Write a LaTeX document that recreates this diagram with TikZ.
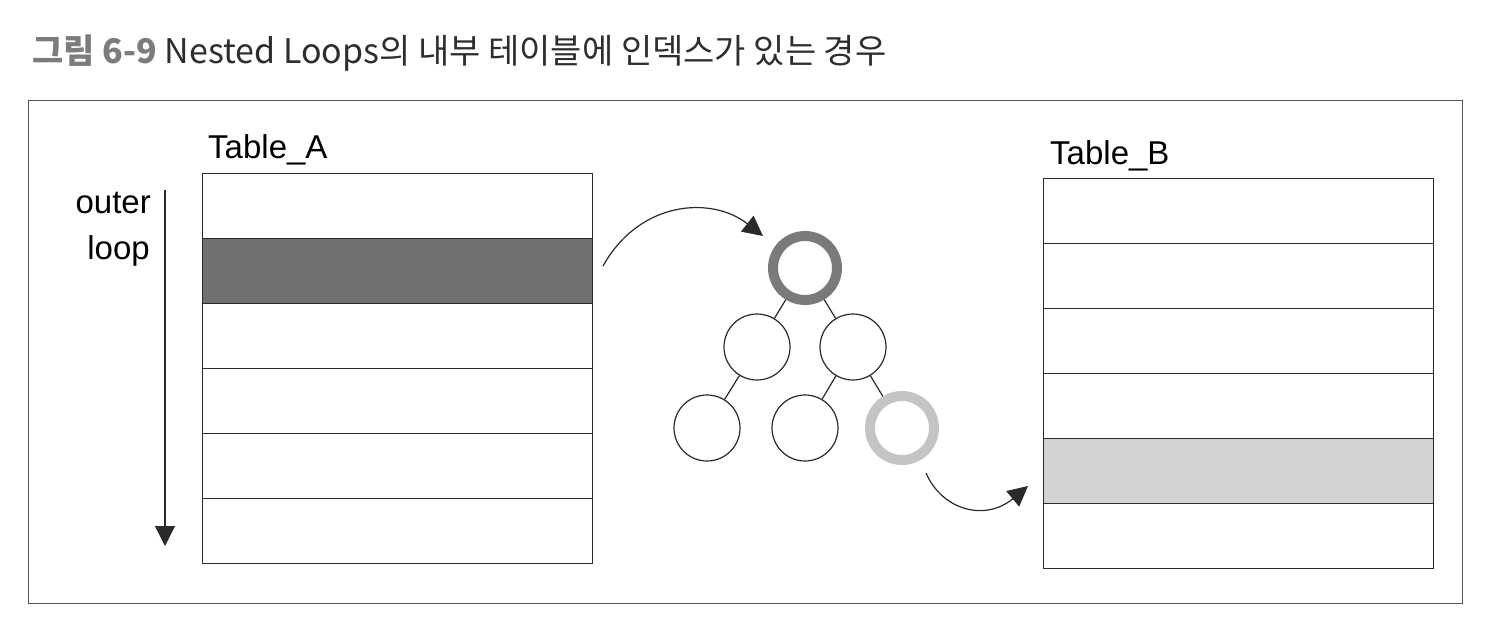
\documentclass[tikz,border=0pt]{standalone}
\usepackage{fontspec}
\setmainfont{Liberation Sans}
\newfontfamily\krfont{Noto Sans CJK KR}
\usetikzlibrary{arrows.meta}
\definecolor{darkrow}{HTML}{707070}
\definecolor{lightrow}{HTML}{D2D2D2}
\definecolor{rootring}{HTML}{7A7A7A}
\definecolor{leafring}{HTML}{C4C4C4}
\definecolor{linecol}{HTML}{2A2A2A}
\definecolor{titlegray}{HTML}{7C7C7C}
\definecolor{titledark}{HTML}{2E2E2E}
\tikzset{
  rowbox/.style={draw=linecol, line width=1.2pt, minimum width=390pt, minimum height=65pt, inner sep=0pt, anchor=north west},
  plaincirc/.style={circle, draw=linecol, line width=1.2pt, minimum size=66pt, inner sep=0pt, fill=white},
  ringcirc/.style={circle, line width=10pt, minimum size=64pt, inner sep=0pt, outer sep=5pt},
  arr/.style={draw=linecol, line width=1.2pt, -{Triangle[length=20pt,width=20pt]}},
  lbl/.style={font=\fontsize{33}{38}\selectfont, text=black, inner sep=0pt},
  edge/.style={draw=linecol, line width=1.2pt}
}
\begin{document}
\begin{tikzpicture}[x=1pt,y=-1pt]
\path[use as bounding box, fill=white] (0,0) rectangle (1488,632);
% title
\node[anchor=base west, inner sep=0pt, font=\krfont\fontsize{34}{40}\selectfont] (title) at (32,63)
  {\textcolor{titlegray}{\bfseries 그림 6-9} \textcolor{titledark}{Nested Loops의 내부 테이블에 인덱스가 있는 경우}};
% frame
\node[draw=linecol!80, line width=1.3pt, minimum width=1434pt, minimum height=503pt, inner sep=0pt, anchor=north west] (frame) at (28,100) {};
% Table A
\node[lbl, anchor=base west] (ta) at (208,158) {Table\_A};
\node[rowbox] (a1) at (202,173) {};
\node[rowbox, fill=darkrow] (a2) at (202,238) {};
\node[rowbox] (a3) at (202,303) {};
\node[rowbox] (a4) at (202,368) {};
\node[rowbox] (a5) at (202,433) {};
\node[rowbox] (a6) at (202,498) {};
% outer loop
\node[lbl, anchor=base east] (outer) at (151,213) {outer};
\node[lbl, anchor=base east] (loop) at (150,259) {loop};
\coordinate (ls) at (165,190);
\coordinate (le) at (165,546);
\draw[arr] (ls) -- (le);
% Table B
\node[lbl, anchor=base west] (tb) at (1050,164) {Table\_B};
\node[rowbox] (b1) at (1043,178) {};
\node[rowbox] (b2) at (1043,243) {};
\node[rowbox] (b3) at (1043,308) {};
\node[rowbox] (b4) at (1043,373) {};
\node[rowbox, fill=lightrow] (b5) at (1043,438) {};
\node[rowbox] (b6) at (1043,503) {};
% tree
\node[ringcirc, draw=rootring] (root) at (805,268) {};
\node[plaincirc] (c1) at (757,347) {};
\node[plaincirc] (c2) at (853,347) {};
\node[plaincirc] (d1) at (707,428) {};
\node[plaincirc] (d2) at (805,428) {};
\node[ringcirc, draw=leafring] (d3) at (902,428) {};
\draw[edge] (root) -- (c1);
\draw[edge] (root) -- (c2);
\draw[edge] (c1) -- (d1);
\draw[edge] (c2) -- (d2);
\draw[edge] (c2) -- (d3);
% arrows
\coordinate (s1) at (603,266);
\coordinate (e1) at (763,236);
\draw[arr] (s1) .. controls (640,200) and (712,196) .. (e1);
\coordinate (s2) at (926,473);
\coordinate (e2) at (1028,486);
\draw[arr] (s2) .. controls (942,510) and (985,522) .. (e2);
\end{tikzpicture}
\end{document}
